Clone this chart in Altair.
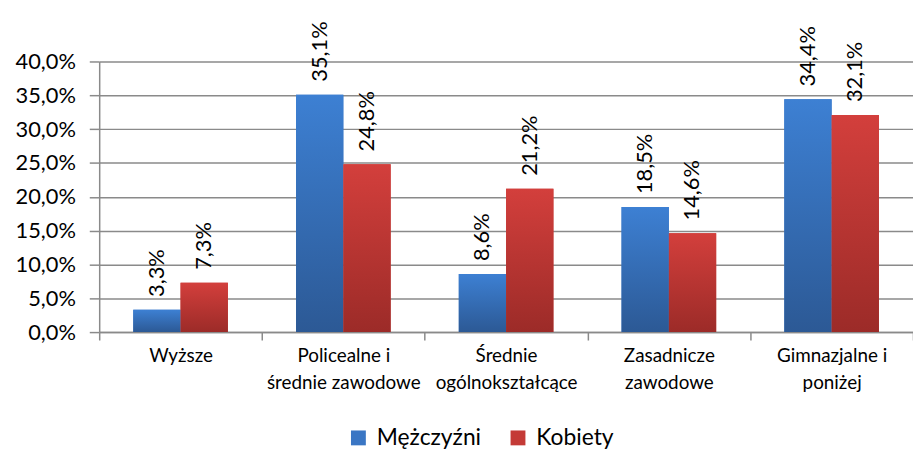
import altair as alt
import pandas as pd

categories = ["Wyższe", "Policealne i|średnie zawodowe", "Średnie|ogólnokształcące",
              "Zasadnicze|zawodowe", "Gimnazjalne i|poniżej"]
series = ["Mężczyźni", "Kobiety"]
men = [3.3, 35.1, 8.6, 18.5, 34.4]
women = [7.3, 24.8, 21.2, 14.6, 32.1]
y_ticks = [0, 5, 10, 15, 20, 25, 30, 35, 40]

rows = []
for c, m, w in zip(categories, men, women):
    rows.append({"cat": c, "series": series[0], "value": m})
    rows.append({"cat": c, "series": series[1], "value": w})
df = pd.DataFrame(rows)

FONT = "Lato"
GRAY = "#8a8a8a"


def grad(top, bottom):
    return alt.Gradient(
        gradient="linear",
        stops=[alt.GradientStop(color=top, offset=0), alt.GradientStop(color=bottom, offset=1)],
        x1=0, x2=0, y1=0, y2=1,
    )


x = alt.X(
    "cat:N", sort=categories, title=None,
    scale=alt.Scale(domain=categories, paddingInner=0, paddingOuter=0),
    axis=alt.Axis(
        labelExpr="split(datum.label, '|')", labelAngle=0, labelFont=FONT, labelFontSize=19,
        labelColor="#000000", labelLineHeight=27, labelPadding=7, tickBand="extent",
        tickSize=8, tickColor=GRAY, tickWidth=1.5, domainColor=GRAY, domainWidth=1.5,
        grid=False,
    ),
)
xo = alt.XOffset("series:N", sort=series,
                 scale=alt.Scale(domain=series, paddingInner=0, paddingOuter=0.72))
y = alt.Y(
    "value:Q", title=None,
    scale=alt.Scale(domain=[0, 40], nice=False),
    axis=alt.Axis(
        values=y_ticks, labelExpr="replace(format(datum.value, '.1f'), '.', ',') + '%'",
        labelFont=FONT, labelFontSize=22, labelColor="#000000", labelPadding=14,
        tickSize=10, tickColor=GRAY, tickWidth=1.5, domainColor=GRAY, domainWidth=1.5,
        grid=True, gridColor=GRAY, gridWidth=1.5,
    ),
)

base = alt.Chart(df)

legend_bars = base.mark_bar().encode(
    x=x, xOffset=xo, y=y,
    color=alt.Color(
        "series:N", sort=series,
        scale=alt.Scale(domain=series, range=["#3a76c4", "#c43a36"]),
        legend=alt.Legend(
            title=None, orient="none", direction="horizontal", legendX=250, legendY=368,
            symbolType="square", symbolSize=225, symbolStrokeWidth=0,
            labelFont=FONT, labelFontSize=23, labelColor="#000000", labelOffset=7,
            columnPadding=25,
        ),
    ),
)

men_bars = base.transform_filter(alt.datum.series == series[0]).mark_bar(
    color=grad("#3d80d3", "#2c5995")
).encode(x=x, xOffset=xo, y=y)

women_bars = base.transform_filter(alt.datum.series == series[1]).mark_bar(
    color=grad("#d33f3c", "#9c2b28")
).encode(x=x, xOffset=xo, y=y)

labels = base.transform_calculate(
    lab="replace(format(datum.value, '.1f'), '.', ',') + '%'"
).mark_text(
    angle=270, align="left", baseline="middle", dx=13, font=FONT, fontSize=22, color="#000000"
).encode(x=x, xOffset=xo, y=y, text="lab:N")

chart = alt.layer(legend_bars, men_bars, women_bars, labels).properties(
    width=821, height=273,
    autosize=alt.AutoSizeParams(type="none"),
    padding={"left": 92, "top": 52, "right": 0, "bottom": 117},
).configure_view(stroke=None)

chart.save("out.html", embed_options={"renderer": "svg", "actions": False})
